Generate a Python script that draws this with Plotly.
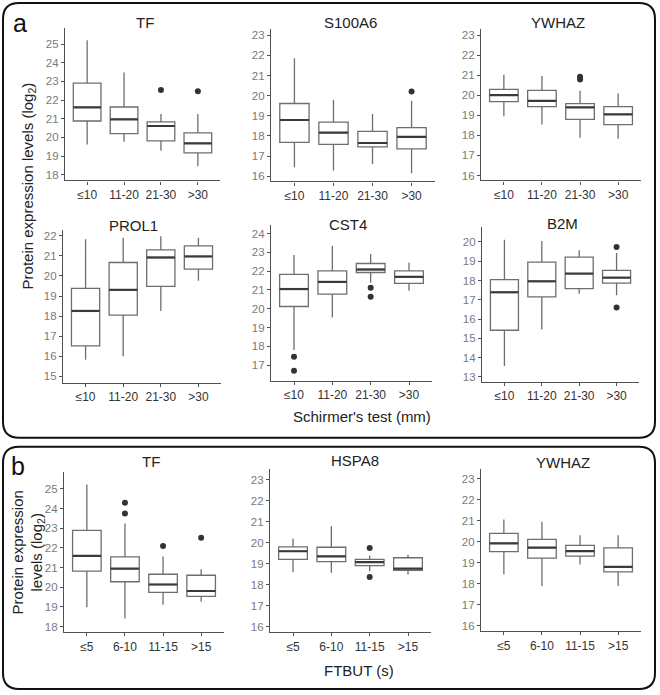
import plotly.graph_objects as go

# ---------------- data ----------------
cats_schirmer = ["≤10", "11-20", "21-30", ">30"]
cats_ftbut = ["≤5", "6-10", "11-15", ">15"]

# panel a: TF
tf_a_lower = [19.62, 19.76, 19.29, 18.45]
tf_a_q1 = [20.88, 20.20, 19.81, 19.17]
tf_a_median = [21.61, 20.97, 20.61, 19.68]
tf_a_q3 = [22.91, 21.63, 20.83, 20.24]
tf_a_upper = [25.21, 23.48, 21.26, 21.26]
tf_a_out_cat = [2, 3]
tf_a_out_val = [22.54, 22.47]

# panel a: S100A6
s100a6_lower = [16.45, 16.28, 16.61, 16.15]
s100a6_q1 = [17.68, 17.58, 17.46, 17.36]
s100a6_median = [18.79, 18.16, 17.65, 17.95]
s100a6_q3 = [19.61, 18.69, 18.23, 18.41]
s100a6_upper = [21.86, 19.78, 19.09, 19.75]
s100a6_out_cat = [3]
s100a6_out_val = [20.21]

# panel a: YWHAZ
ywhaz_a_lower = [18.95, 18.54, 17.88, 17.83]
ywhaz_a_q1 = [19.68, 19.43, 18.80, 18.54]
ywhaz_a_median = [20.01, 19.72, 19.40, 19.05]
ywhaz_a_q3 = [20.29, 20.24, 19.58, 19.43]
ywhaz_a_upper = [21.02, 20.96, 20.23, 20.09]
ywhaz_a_out_cat = [2, 2]
ywhaz_a_out_val = [20.93, 20.79]

# panel a: PROL1
prol1_lower = [15.83, 16.00, 18.26, 19.76]
prol1_q1 = [16.52, 18.05, 19.48, 20.34]
prol1_median = [18.26, 19.31, 20.92, 20.97]
prol1_q3 = [19.38, 20.67, 21.30, 21.50]
prol1_upper = [21.83, 21.90, 21.97, 21.90]
prol1_out_cat = []
prol1_out_val = []

# panel a: CST4
cst4_lower = [17.80, 19.54, 21.38, 20.96]
cst4_q1 = [20.12, 20.78, 21.93, 21.35]
cst4_median = [21.05, 21.43, 22.09, 21.70]
cst4_q3 = [21.83, 22.02, 22.41, 22.02]
cst4_upper = [22.86, 23.34, 22.91, 22.45]
cst4_out_cat = [0, 0, 2, 2]
cst4_out_val = [17.44, 16.70, 21.12, 20.64]

# panel a: B2M
b2m_lower = [13.56, 15.46, 17.32, 17.24]
b2m_q1 = [15.42, 17.15, 17.58, 17.87]
b2m_median = [17.39, 17.96, 18.36, 18.15]
b2m_q3 = [18.05, 18.96, 19.22, 18.53]
b2m_upper = [20.12, 20.05, 19.57, 19.43]
b2m_out_cat = [3, 3]
b2m_out_val = [19.74, 16.60]

# panel b: TF
tf_b_lower = [18.98, 18.42, 19.11, 19.27]
tf_b_q1 = [20.82, 20.28, 19.74, 19.54]
tf_b_median = [21.59, 20.95, 20.14, 19.81]
tf_b_q3 = [22.89, 21.54, 20.66, 20.61]
tf_b_upper = [25.22, 23.24, 21.56, 20.92]
tf_b_out_cat = [1, 1, 2, 3]
tf_b_out_val = [24.29, 23.74, 22.10, 22.52]

# panel b: HSPA8
hspa8_lower = [18.59, 18.57, 18.64, 18.48]
hspa8_q1 = [19.20, 19.10, 18.91, 18.68]
hspa8_median = [19.59, 19.35, 19.07, 18.76]
hspa8_q3 = [19.80, 19.78, 19.20, 19.28]
hspa8_upper = [20.18, 20.78, 19.39, 19.42]
hspa8_out_cat = [2, 2]
hspa8_out_val = [19.75, 18.36]

# panel b: YWHAZ
ywhaz_b_lower = [18.46, 17.90, 18.92, 17.90]
ywhaz_b_q1 = [19.53, 19.22, 19.32, 18.57]
ywhaz_b_median = [19.93, 19.72, 19.56, 18.81]
ywhaz_b_q3 = [20.40, 20.12, 19.83, 19.71]
ywhaz_b_upper = [21.07, 20.96, 20.31, 20.31]
ywhaz_b_out_cat = []
ywhaz_b_out_val = []

# ---------------- layout config (pixels) ----------------
W, H = 660, 695


def fx(p):
    return p / W


def fy(p):
    return 1 - p / H


panels = [
    dict(title="TF", cats=cats_schirmer, st=(tf_a_lower, tf_a_q1, tf_a_median, tf_a_q3, tf_a_upper),
         out=(tf_a_out_cat, tf_a_out_val), xd=(65, 220), yd=(27, 180), yr=(17.69, 25.87), tpos=(145, 22)),
    dict(title="S100A6", cats=cats_schirmer, st=(s100a6_lower, s100a6_q1, s100a6_median, s100a6_q3, s100a6_upper),
         out=(s100a6_out_cat, s100a6_out_val), xd=(271, 435), yd=(28, 181), yr=(15.74, 23.31), tpos=(350, 22)),
    dict(title="YWHAZ", cats=cats_schirmer, st=(ywhaz_a_lower, ywhaz_a_q1, ywhaz_a_median, ywhaz_a_q3, ywhaz_a_upper),
         out=(ywhaz_a_out_cat, ywhaz_a_out_val), xd=(481, 641), yd=(28, 180), yr=(15.75, 23.31), tpos=(558, 22)),
    dict(title="PROL1", cats=cats_schirmer, st=(prol1_lower, prol1_q1, prol1_median, prol1_q3, prol1_upper),
         out=(prol1_out_cat, prol1_out_val), xd=(63, 221), yd=(230, 383), yr=(14.68, 22.27), tpos=(133, 225)),
    dict(title="CST4", cats=cats_schirmer, st=(cst4_lower, cst4_q1, cst4_median, cst4_q3, cst4_upper),
         out=(cst4_out_cat, cst4_out_val), xd=(271, 432), yd=(225, 381), yr=(16.16, 24.44), tpos=(348, 224)),
    dict(title="B2M", cats=cats_schirmer, st=(b2m_lower, b2m_q1, b2m_median, b2m_q3, b2m_upper),
         out=(b2m_out_cat, b2m_out_val), xd=(482, 639), yd=(227, 382), yr=(12.74, 20.76), tpos=(562, 223)),
    dict(title="TF", cats=cats_ftbut, st=(tf_b_lower, tf_b_q1, tf_b_median, tf_b_q3, tf_b_upper),
         out=(tf_b_out_cat, tf_b_out_val), xd=(64, 224), yd=(472, 633), yr=(17.72, 25.87), tpos=(151, 462)),
    dict(title="HSPA8", cats=cats_ftbut, st=(hspa8_lower, hspa8_q1, hspa8_median, hspa8_q3, hspa8_upper),
         out=(hspa8_out_cat, hspa8_out_val), xd=(270, 431), yd=(469, 633), yr=(15.74, 23.52), tpos=(355, 461)),
    dict(title="YWHAZ", cats=cats_ftbut, st=(ywhaz_b_lower, ywhaz_b_q1, ywhaz_b_median, ywhaz_b_q3, ywhaz_b_upper),
         out=(ywhaz_b_out_cat, ywhaz_b_out_val), xd=(481, 641), yd=(469, 632), yr=(15.74, 23.49), tpos=(563, 463)),
]

FONT = "Arial, Liberation Sans, Helvetica, sans-serif"
BOX_LINE = "#6e6e6e"
MED_LINE = "#3a3a3a"
AXIS_LINE = "#505050"
BW = 0.75

fig = go.Figure()
layout = dict(
    width=W, height=H, margin=dict(l=0, r=0, t=0, b=0),
    paper_bgcolor="white", plot_bgcolor="white", showlegend=False,
    font=dict(family=FONT, color="#222"),
)
annotations = []

for i, p in enumerate(panels):
    n = i + 1
    xa = "x" if n == 1 else f"x{n}"
    ya = "y" if n == 1 else f"y{n}"
    lower, q1, med, q3, upper = p["st"]
    pos = list(range(len(p["cats"])))
    fig.add_trace(go.Box(
        x=pos, lowerfence=lower, q1=q1, median=med, q3=q3, upperfence=upper,
        width=BW, whiskerwidth=0, fillcolor="white",
        line=dict(color=BOX_LINE, width=1.3), boxpoints=False,
        xaxis=xa, yaxis=ya, hoverinfo="skip",
    ))
    mx, my = [], []
    for k, m in zip(pos, med):
        mx += [k - BW / 2, k + BW / 2, None]
        my += [m, m, None]
    fig.add_trace(go.Scatter(x=mx, y=my, mode="lines", line=dict(color=MED_LINE, width=2.2),
                             xaxis=xa, yaxis=ya, hoverinfo="skip"))
    oc, ov = p["out"]
    if oc:
        fig.add_trace(go.Scatter(x=oc, y=ov, mode="markers",
                                 marker=dict(color="#333333", size=6),
                                 xaxis=xa, yaxis=ya, hoverinfo="skip"))
    xkey = "xaxis" if n == 1 else f"xaxis{n}"
    ykey = "yaxis" if n == 1 else f"yaxis{n}"
    layout[xkey] = dict(
        domain=[fx(p["xd"][0]), fx(p["xd"][1])], anchor=ya, range=[-0.6, 3.6],
        tickvals=pos, ticktext=p["cats"], showline=True, linecolor=AXIS_LINE, linewidth=1.3,
        ticks="outside", ticklen=3, tickwidth=1, tickcolor=AXIS_LINE,
        tickfont=dict(size=12, color="#333", family=FONT), showgrid=False, zeroline=False,
        fixedrange=True,
    )
    layout[ykey] = dict(
        domain=[fy(p["yd"][1]), fy(p["yd"][0])], anchor=xa, range=list(p["yr"]),
        dtick=1, showline=True, linecolor=AXIS_LINE, linewidth=1.3,
        ticks="outside", ticklen=3, tickwidth=1, tickcolor=AXIS_LINE,
        tickfont=dict(size=11.5, color="#7a7a7a", family=FONT), showgrid=False, zeroline=False,
        fixedrange=True,
    )
    annotations.append(dict(text=p["title"], x=fx(p["tpos"][0]), y=fy(p["tpos"][1]),
                            xref="paper", yref="paper", showarrow=False,
                            font=dict(size=15, color="#222", family=FONT),
                            xanchor="center", yanchor="middle"))

# axis titles, panel letters
annotations += [
    dict(text="a", x=fx(20), y=fy(22), font=dict(size=25, color="#111", family=FONT)),
    dict(text="b", x=fx(18), y=fy(466), font=dict(size=25, color="#111", family=FONT)),
    dict(text="Schirmer's test (mm)", x=fx(362), y=fy(417), font=dict(size=15, color="#222", family=FONT)),
    dict(text="FTBUT (s)", x=fx(359), y=fy(671), font=dict(size=15, color="#222", family=FONT)),
    dict(text="Protein expression levels (log<sub>2</sub>)", x=fx(28), y=fy(186), textangle=-90,
         font=dict(size=15, color="#222", family=FONT)),
    dict(text="Protein expression<br>levels (log<sub>2</sub>)", x=fx(28), y=fy(553), textangle=-90,
         font=dict(size=15, color="#222", family=FONT)),
]
for a in annotations:
    a.setdefault("xref", "paper")
    a.setdefault("yref", "paper")
    a.setdefault("showarrow", False)
    a.setdefault("xanchor", "center")
    a.setdefault("yanchor", "middle")
layout["annotations"] = annotations


def rounded_rect(x0, y0, x1, y1, r):
    pts = [
        f"M {fx(x0 + r)},{fy(y0)}",
        f"L {fx(x1 - r)},{fy(y0)}",
        f"Q {fx(x1)},{fy(y0)} {fx(x1)},{fy(y0 + r)}",
        f"L {fx(x1)},{fy(y1 - r)}",
        f"Q {fx(x1)},{fy(y1)} {fx(x1 - r)},{fy(y1)}",
        f"L {fx(x0 + r)},{fy(y1)}",
        f"Q {fx(x0)},{fy(y1)} {fx(x0)},{fy(y1 - r)}",
        f"L {fx(x0)},{fy(y0 + r)}",
        f"Q {fx(x0)},{fy(y0)} {fx(x0 + r)},{fy(y0)}",
        "Z",
    ]
    return dict(type="path", path=" ".join(pts), xref="paper", yref="paper",
                line=dict(color="#111", width=2), fillcolor="rgba(0,0,0,0)", layer="below")


layout["shapes"] = [rounded_rect(3, 2, 655, 438, 16), rounded_rect(3, 447, 655, 690, 16)]

fig.update_layout(**layout)
fig.write_html("out.html", config={"displayModeBar": False},
               post_script="document.body.style.margin='0';document.body.style.overflow='hidden';")
